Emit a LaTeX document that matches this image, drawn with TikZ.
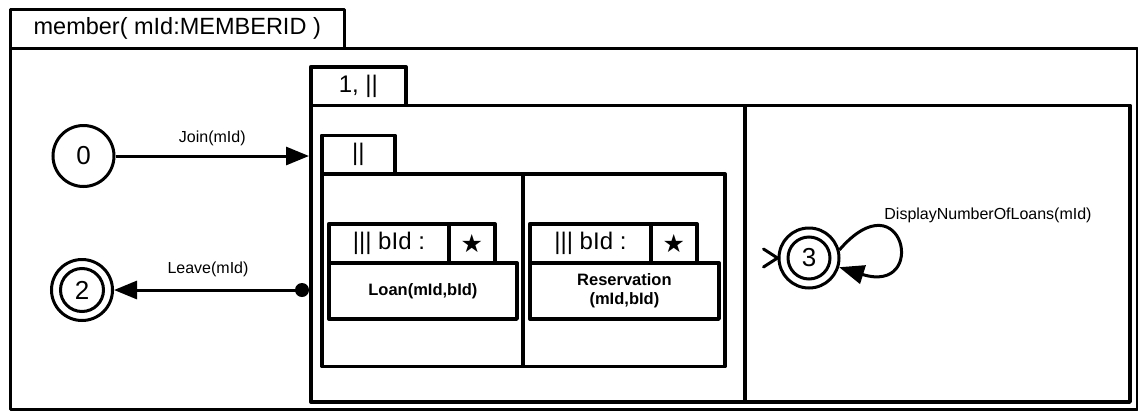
\documentclass[tikz,border=0pt]{standalone}
\usepackage{fontspec}
\setmainfont{Liberation Sans}
\newfontfamily\symfont{DejaVu Sans}
\usetikzlibrary{arrows.meta}

\newcommand{\fsz}[1]{\fontsize{#1}{#1}\selectfont}

\tikzset{
  frame/.style={draw, line width=3pt, inner sep=0pt, anchor=north west, line join=round},
  box/.style={draw, line width=3.8pt, inner sep=0pt, anchor=north west, line join=round},
  tabtext/.style={font=\fsz{24}},
  startext/.style={font=\symfont\fsz{25}},
  state/.style={draw, circle, line width=3pt, minimum size=61pt, inner sep=0pt, font=\fsz{26}},
  lbl/.style={font=\fsz{16}, inner sep=0pt},
  act/.style={font=\bfseries\fsz{16.5}, align=center},
  trans/.style={line width=3pt, -{Triangle[length=23pt,width=18pt]}},
}

\begin{document}
\begin{tikzpicture}[x=1pt, y=-1pt]
\useasboundingbox (0,0) rectangle (1138,410);

% outer machine frame with its title tab
\node[frame, minimum width=1126.5pt, minimum height=360.5pt] (outer) at (9,47) {};
\node[frame, minimum width=333.5pt, minimum height=39.5pt, font=\fsz{23.5}] (outertab) at (9,7.5) {member( mId:MEMBERID )};

% composite "1, ||" with two regions
\node[box, minimum width=434pt, minimum height=296.5pt] (c1left) at (309,103.5) {};
\node[box, minimum width=385pt, minimum height=296.5pt] (c1right) at (743,103.5) {};
\node[box, minimum width=95pt, minimum height=38.5pt, tabtext] (c1tab) at (309,65) {1, ||};

% parallel composite "||"
\node[box, minimum width=201pt, minimum height=192.5pt] (c2left) at (320,172) {};
\node[box, minimum width=202pt, minimum height=192.5pt] (c2right) at (521,172) {};
\node[box, minimum width=73pt, minimum height=38.5pt, tabtext] (c2tab) at (320,133.5) {||};

% replicated Loan action
\node[box, minimum width=188pt, minimum height=56pt, act] (loan) at (327,261) {Loan(mId,bId)};
\node[box, minimum width=120pt, minimum height=39pt, tabtext] (loantab) at (327,222) {||| bId :};
\node[box, minimum width=46pt, minimum height=39pt, startext] (loanstar) at (447,222) {★};

% replicated Reservation action
\node[box, minimum width=189pt, minimum height=56pt, act] (resv) at (528,261) {Reservation\\[2pt](mId,bId)};
\node[box, minimum width=121pt, minimum height=39pt, tabtext] (resvtab) at (528,222) {||| bId :};
\node[box, minimum width=46pt, minimum height=39pt, startext] (resvstar) at (649,222) {★};

% states
\node[state] (s0) at (83.5,156) {0};
\node[state] (s2) at (82,290) {2};
\draw[line width=3pt] (s2.center) circle (21.5);
\node[state, minimum size=60pt] (s3) at (809,258) {3};
\draw[line width=3pt] (s3.center) circle (21);

% initial marker of state 3
\draw[line width=3pt, line cap=round, line join=miter] (s3.west) ++(-14,-9) -- (s3.west) -- ++(-14,9);

% transitions
\draw[trans] (s0) -- (s0 -| c1left.west) node[lbl, midway, above=9pt] {Join(mId)};
\node[circle, fill, minimum size=14pt, inner sep=0pt] (exitpt) at (302,290) {};
\draw[trans] (exitpt.center) -- (s2) node[lbl, midway, above=12pt] {Leave(mId)};
\draw[line width=3pt, -{Triangle[length=25pt,width=19pt]}]
  (s3.15) .. controls +(64,-74) and +(90,28) .. (s3.-17);
\node[lbl] (dlbl) at (988,215) {DisplayNumberOfLoans(mId)};
\end{tikzpicture}
\end{document}
